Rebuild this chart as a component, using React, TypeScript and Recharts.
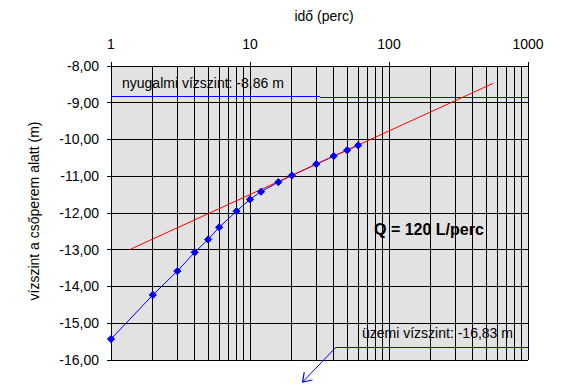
import React from 'react';
import { ComposedChart, Line, Scatter, XAxis, YAxis, CartesianGrid, ReferenceLine, Customized } from 'recharts';

// pumping test: time (perc) vs water level (m)
const times = [1, 2, 3, 4, 5, 6, 8, 10, 12, 16, 20, 30, 40, 50, 60];
const levels = [-15.43, -14.23, -13.58, -13.07, -12.72, -12.39, -11.95, -11.63, -11.42, -11.16, -10.98, -10.67, -10.45, -10.29, -10.16];

// fitted straight line (semi-log)
const fitTimes = [1.355, 562];
const fitLevels = [-13.0, -8.47];

// static level line and pointer to operating level
const staticLevel = -8.86;
const staticLabelLevel = -8.83;
const staticLabelEnd = 32;
const pointerTimes = [41.6, 1000];
const pointerLevel = -15.65;
const arrowTip = { t: 23.9, level: -16.6 };

const xGridValues = [1, 2, 3, 4, 5, 6, 7, 8, 9, 10, 20, 30, 40, 50, 60, 70, 80, 90, 100, 200, 300, 400, 500, 600, 700, 800, 900, 1000];
const xTickLabels = [1, 10, 100, 1000];
const yTicks = [-16, -15, -14, -13, -12, -11, -10, -9, -8];

const FONT = '"Liberation Sans", Arial, sans-serif';

const measured = times.map((t, i) => ({ t, level: levels[i] }));
const fitted = fitTimes.map((t, i) => ({ t, level: fitLevels[i] }));

const fmtY = (v: number) => v.toFixed(2).replace('.', ',');

const TopTick = (props: any) => {
  const { x, y, payload } = props;
  if (!xTickLabels.includes(payload.value)) return null;
  return (
    <g>
      <line x1={x} x2={x} y1={y + 13} y2={y + 17} stroke="#000" strokeWidth={1} shapeRendering="crispEdges" />
      <text x={x} y={y} textAnchor="middle" fontFamily={FONT} fontSize={14} fill="#000">
        {payload.value}
      </text>
    </g>
  );
};

const Diamond = (props: any) => {
  const { cx, cy } = props;
  if (cx == null || cy == null) return null;
  const r = 3.6;
  return <path d={`M${cx},${cy - r}L${cx + r},${cy}L${cx},${cy + r}L${cx - r},${cy}Z`} fill="#0000FF" stroke="#0000FF" strokeWidth={1} />;
};

const ArrowShape = (props: any) => {
  const { x1, y1, x2, y2 } = props;
  if ([x1, y1, x2, y2].some((v) => v == null || isNaN(v))) return null;
  const ang = Math.atan2(y1 - y2, x1 - x2);
  const len = 10;
  const spread = 0.6;
  const hx1 = x2 + len * Math.cos(ang - spread);
  const hy1 = y2 + len * Math.sin(ang - spread);
  const hx2 = x2 + len * Math.cos(ang + spread);
  const hy2 = y2 + len * Math.sin(ang + spread);
  return (
    <g>
      <line x1={x1} y1={y1} x2={x2} y2={y2} stroke="#0000FF" strokeWidth={1} />
      <polyline points={`${hx1},${hy1} ${x2},${y2} ${hx2},${hy2}`} fill="none" stroke="#0000FF" strokeWidth={1.2} />
    </g>
  );
};

const Texts = () => (
  <g fontFamily={FONT} fill="#000">
    <text x={324} y={21} textAnchor="middle" fontSize={14}>idő (perc)</text>
    <text transform="translate(39,211) rotate(-90)" textAnchor="middle" fontSize={14}>vízszint a csőperem alatt (m)</text>
    <text x={122} y={88} fontSize={14}>nyugalmi vízszint: -8,86 m</text>
    <text x={362} y={338} fontSize={14}>üzemi vízszint: -16,83 m</text>
    <text x={374} y={235} fontSize={16} fontWeight="bold">Q = 120 L/perc</text>
  </g>
);

export default function App() {
  return (
    <div style={{ position: 'absolute', left: 0, top: 0, background: '#fff' }}>
      <ComposedChart width={578} height={391} margin={{ top: 0, right: 50, bottom: 31, left: 0 }}>
        <XAxis
          xAxisId="x"
          orientation="top"
          type="number"
          dataKey="t"
          scale="log"
          domain={[1, 1000]}
          ticks={xGridValues}
          interval={0}
          height={66}
          tickSize={4}
          tickMargin={13}
          tickLine={{ stroke: 'transparent' }}
          axisLine={false}
          tick={<TopTick />}
        />
        <YAxis
          yAxisId="y"
          type="number"
          dataKey="level"
          domain={[-16, -8]}
          ticks={yTicks}
          interval={0}
          width={111}
          tickSize={4}
          tickMargin={8}
          tickLine={{ stroke: '#000', shapeRendering: 'crispEdges' }}
          axisLine={false}
          tickFormatter={fmtY}
          tick={{ fill: '#000', fontSize: 14, fontFamily: FONT }}
        />
        <CartesianGrid xAxisId="x" yAxisId="y" stroke="#000" strokeWidth={1} fill="#E2E2E2" fillOpacity={1} shapeRendering="crispEdges" />
        <ReferenceLine xAxisId="x" yAxisId="y" segment={[{ x: 1, y: staticLabelLevel }, { x: staticLabelEnd, y: staticLabelLevel }]} stroke="#0000FF" strokeWidth={1} ifOverflow="visible" shapeRendering="crispEdges" />
        <ReferenceLine xAxisId="x" yAxisId="y" segment={[{ x: staticLabelEnd, y: staticLevel }, { x: 1000, y: staticLevel }]} stroke="#0000FF" strokeWidth={1} ifOverflow="visible" shapeRendering="crispEdges" />
        <ReferenceLine xAxisId="x" yAxisId="y" segment={[{ x: pointerTimes[0], y: pointerLevel }, { x: pointerTimes[1], y: pointerLevel }]} stroke="#0000FF" strokeWidth={1} ifOverflow="visible" shapeRendering="crispEdges" />
        <ReferenceLine xAxisId="x" yAxisId="y" segment={[{ x: pointerTimes[0], y: pointerLevel }, { x: arrowTip.t, y: arrowTip.level }]} stroke="#0000FF" ifOverflow="visible" shape={ArrowShape} />
        <Line xAxisId="x" yAxisId="y" data={measured} dataKey="level" stroke="#0000FF" strokeWidth={1} dot={false} activeDot={false} isAnimationActive={false} />
        <Scatter xAxisId="x" yAxisId="y" data={measured} dataKey="level" fill="#0000FF" shape={Diamond} isAnimationActive={false} />
        <Line xAxisId="x" yAxisId="y" data={fitted} dataKey="level" stroke="#FF0000" strokeWidth={1} dot={false} activeDot={false} isAnimationActive={false} />
        <Customized component={Texts} />
      </ComposedChart>
    </div>
  );
}
